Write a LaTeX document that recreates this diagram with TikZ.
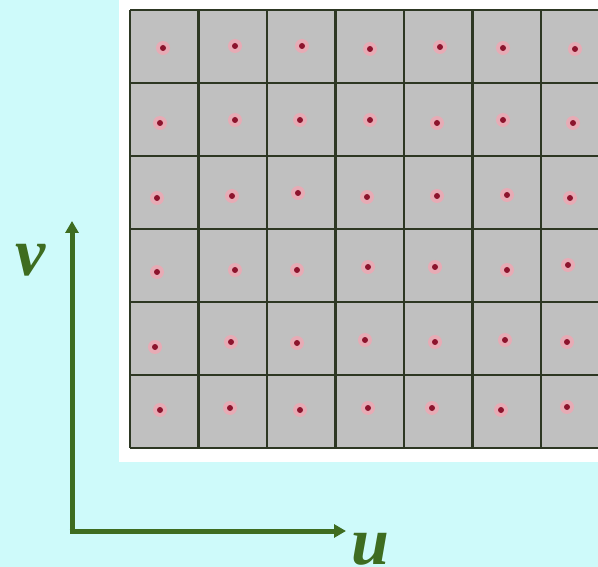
\documentclass[tikz,border=0pt]{standalone}
\usepackage{fontspec}
\setmainfont{Liberation Serif}
\usetikzlibrary{arrows.meta}
\definecolor{bgc}{RGB}{206,250,250}
\definecolor{cellc}{RGB}{192,192,192}
\definecolor{gridc}{RGB}{45,55,35}
\definecolor{axisc}{RGB}{62,108,32}
\definecolor{glowc}{RGB}{238,168,180}
\definecolor{dotc}{RGB}{140,20,45}
\tikzset{
  gridline/.style={draw=gridc, line width=2.8pt},
  axisline/.style={draw=axisc, line width=5pt, -{Triangle[length=12pt,width=13pt]}},
  axlabel/.style={text=axisc, font=\fontsize{68}{68}\selectfont\bfseries\itshape, inner sep=0pt, anchor=base}
}
\begin{document}
\begin{tikzpicture}[x=1pt,y=-1pt]
\useasboundingbox (0,0) rectangle (598,567);
\fill[bgc] (0,0) rectangle (598,567);
\fill[white] (119,0) rectangle (598,462);
\begin{scope}
\clip (0,0) rectangle (598,567);
\fill[cellc] (130,10) rectangle (610,448);
\foreach \x in {130,198.5,267,335.5,404,472.5,541,609.5}
  \draw[gridline] (\x,10) -- (\x,448);
\foreach \y in {10,83,156,229,302,375,448}
  \draw[gridline] (130,\y) -- (611,\y);
\foreach \px/\py in {163/48,235/46,302/46,370/49,440/47,503/48,575/49,
  160/123,235/120,300/120,370/120,437/123,503/120,573/123,
  157/198,232/196,298/193,367/197,437/196,507/195,570/198,
  157/272,235/270,297/270,368/267,435/267,507/270,568/265,
  155/347,231/342,297/343,365/340,435/342,505/340,567/342,
  160/410,230/408,300/410,368/408,432/408,501/410,567/407}
{
  \fill[glowc, opacity=0.85] (\px,\py) circle (7);
  \fill[dotc] (\px,\py) circle (3);
}
\end{scope}
\coordinate (o) at (72,531);
\coordinate (vtip) at (72,221);
\coordinate (utip) at (346,531);
\draw[axisline] (o) -- (vtip);
\draw[axisline] ([xshift=-2.5pt]o) -- (utip);
\node[axlabel] (vl) at (31,276) {v};
\node[axlabel] (ul) at (370,564) {u};
\end{tikzpicture}
\end{document}
